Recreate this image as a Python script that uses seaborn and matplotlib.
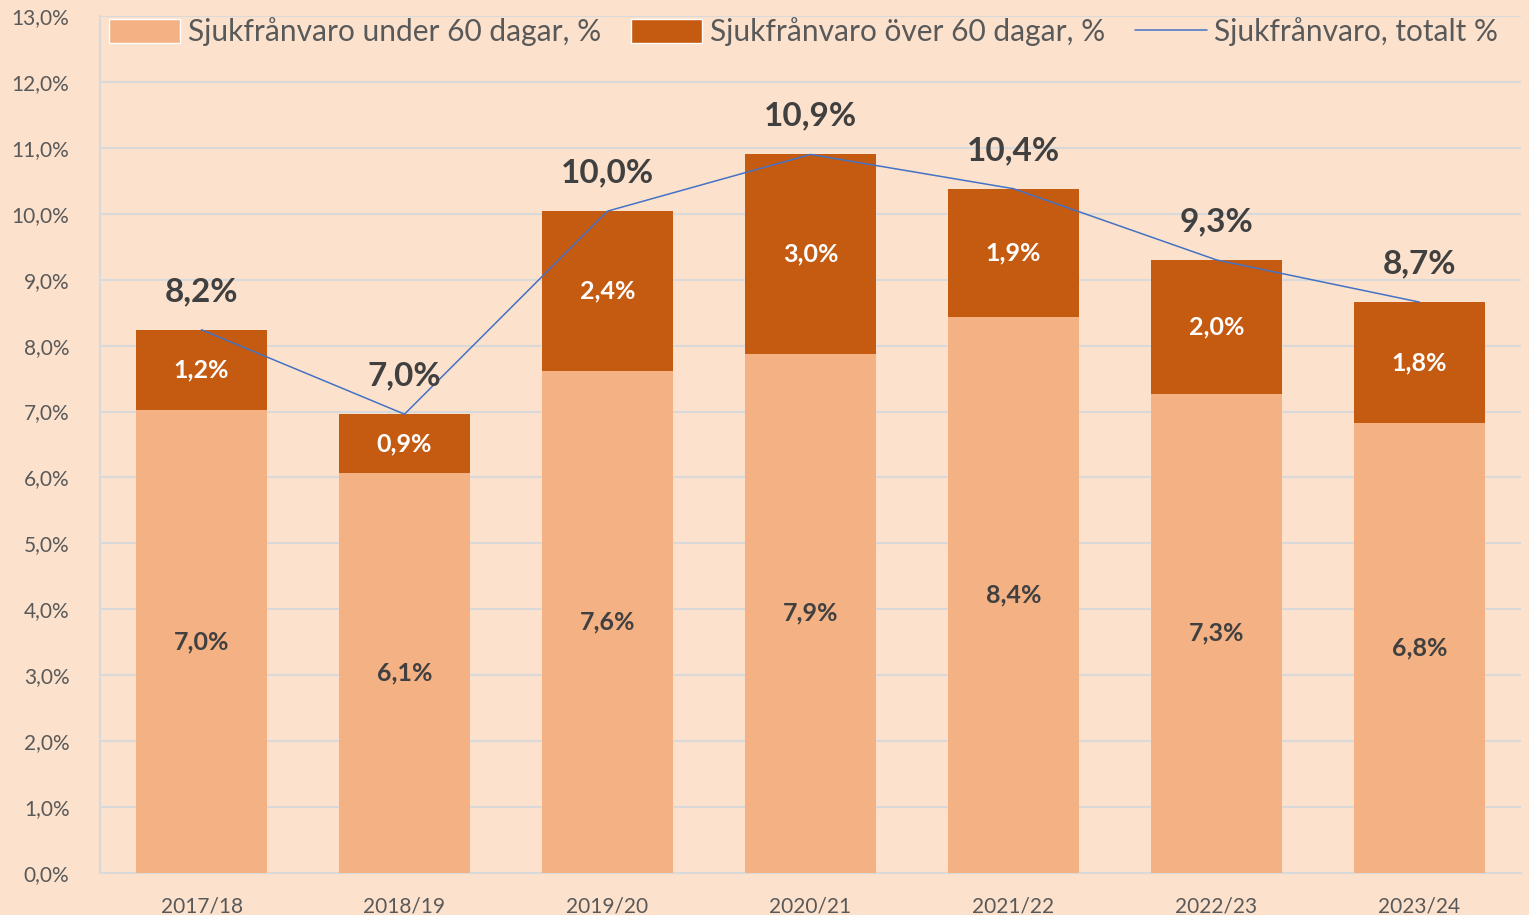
import numpy as np
import seaborn as sns
from matplotlib import pyplot as plt
from matplotlib.patches import Patch
from matplotlib.lines import Line2D

seasons = ["2017/18", "2018/19", "2019/20", "2020/21", "2021/22", "2022/23", "2023/24"]
under_60 = [7.02, 6.07, 7.62, 7.88, 8.44, 7.27, 6.83]
over_60 = [1.22, 0.89, 2.42, 3.02, 1.94, 2.03, 1.83]
total = [u + o for u, o in zip(under_60, over_60)]

light = "#F4B183"
dark = "#C55A11"
bg = "#FCE2CD"
text_grey = "#595959"
label_grey = "#404040"

sns.set_style("white")
plt.rcParams['font.family'] = ['Lato', 'DejaVu Sans']

fig = plt.figure(figsize=(15.29, 9.15), dpi=100)
fig.patch.set_facecolor(bg)
ax = fig.add_axes([100 / 1529, 42 / 915, 1421 / 1529, 857 / 915])
ax.set_facecolor(bg)

# stacked bars: total in dark, under-60 on top in light
sns.barplot(x=seasons, y=total, color=dark, saturation=1, width=0.645, ax=ax,
            zorder=2, linewidth=0)
sns.barplot(x=seasons, y=under_60, color=light, saturation=1, width=0.645, ax=ax,
            zorder=3, linewidth=0)
sns.lineplot(x=np.arange(len(seasons)), y=total, color="#4472C4", linewidth=1.1, ax=ax, zorder=4)

def fmt(v):
    return f"{v:.1f}".replace(".", ",") + "%"

for i in range(len(seasons)):
    ax.text(i, under_60[i] / 2, fmt(under_60[i]), ha="center", va="center",
            fontsize=18, fontweight="bold", color=label_grey, zorder=5)
    ax.text(i, under_60[i] + over_60[i] / 2, fmt(over_60[i]), ha="center", va="center",
            fontsize=18, fontweight="bold", color="white", zorder=5)
    ax.text(i, total[i] + 0.58, fmt(total[i]), ha="center", va="center",
            fontsize=24, fontweight="bold", color=label_grey, zorder=5)

ax.set_xlim(-0.5, 6.5)
ax.set_ylim(0, 13)
ax.set_yticks(range(0, 14))
ax.set_yticklabels([f"{v},0%" for v in range(0, 14)])
ax.tick_params(axis="y", labelsize=15, labelcolor=text_grey, length=0, pad=22)
ax.tick_params(axis="x", labelsize=15, labelcolor=text_grey, length=0, pad=17)
ax.grid(axis="y", color="#D9D9D9", linewidth=1.5, zorder=0)
ax.set_axisbelow(True)
for side in ["top", "right"]:
    ax.spines[side].set_visible(False)
for side in ["left", "bottom"]:
    ax.spines[side].set_color("#D9D9D9")
    ax.spines[side].set_linewidth(1.5)

handles = [
    Patch(facecolor=light, label="Sjukfrånvaro under 60 dagar, %"),
    Patch(facecolor=dark, label="Sjukfrånvaro över 60 dagar, %"),
    Line2D([0], [0], color="#4472C4", linewidth=1.1, label="Sjukfrånvaro, totalt %"),
]
leg = ax.legend(handles=handles, loc="upper center", bbox_to_anchor=(0.495, 1.03), ncol=3,
                frameon=False, fontsize=21.5, handlelength=2.4, handleheight=0.85,
                columnspacing=1.0, handletextpad=0.25)
for t in leg.get_texts():
    t.set_color(text_grey)

fig.savefig("out.png", dpi=100, facecolor=bg)
